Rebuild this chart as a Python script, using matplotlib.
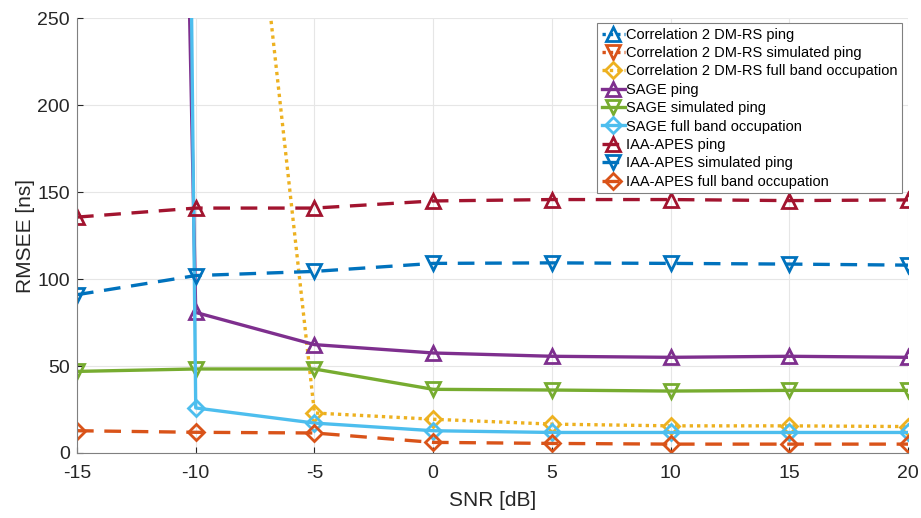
import numpy as np
import matplotlib.pyplot as plt

plt.rcParams["font.family"] = ["Liberation Sans", "DejaVu Sans"]
plt.rcParams["axes.unicode_minus"] = False

snr = [-15, -10, -5, 0, 5, 10, 15, 20]

# RMSEE in ns per method / signal scenario
corr_ping = [1450, 1100, 820, 610, 560, 545, 550, 548]
corr_sim = [1300, 980, 700, 480, 430, 420, 425, 422]
corr_full = [1200, 640, 23, 19.4, 16.6, 15.6, 15.6, 15.2]
sage_ping = [3400, 80.8, 62.3, 57.5, 55.6, 55.0, 55.6, 55.0]
sage_sim = [46.9, 48.3, 48.3, 36.6, 36.2, 35.6, 36.0, 36.0]
sage_full = [6500, 25.9, 17.2, 12.8, 11.8, 11.8, 11.8, 11.8]
iaa_ping = [135.6, 140.8, 140.8, 144.9, 145.7, 145.7, 145.1, 145.5]
iaa_sim = [91.0, 102.0, 104.4, 109.0, 109.3, 109.0, 108.6, 108.0]
iaa_full = [12.8, 11.9, 11.5, 6.1, 5.5, 5.1, 5.1, 5.1]

series = [
    ("Correlation 2 DM-RS ping", corr_ping, "#0072BD", ":", "^"),
    ("Correlation 2 DM-RS simulated ping", corr_sim, "#D95319", ":", "v"),
    ("Correlation 2 DM-RS full band occupation", corr_full, "#EDB120", ":", "D"),
    ("SAGE ping", sage_ping, "#7E2F8E", "-", "^"),
    ("SAGE simulated ping", sage_sim, "#77AC30", "-", "v"),
    ("SAGE full band occupation", sage_full, "#4DBEEE", "-", "D"),
    ("IAA-APES ping", iaa_ping, "#A2142F", "--", "^"),
    ("IAA-APES simulated ping", iaa_sim, "#0072BD", "--", "v"),
    ("IAA-APES full band occupation", iaa_full, "#D95319", "--", "D"),
]

fig = plt.figure(figsize=(9.21, 5.18), dpi=100)
ax = fig.add_axes([0.0836, 0.1255, 0.9024, 0.8395])

for label, y, color, ls, mk in series:
    ms = 8 if mk == "D" else 10
    line, = ax.plot(snr, y, color=color, linestyle=ls, marker=mk, markersize=ms,
                    markerfacecolor="none", markeredgewidth=2, linewidth=2.4,
                    label=label)
    if ls == "--":
        line.set_dashes((5, 3.2))
    elif ls == ":":
        line.set_dashes((1, 1.2))

ax.set_xlim(-15, 20)
ax.set_ylim(0, 250)
ax.set_xticks(np.arange(-15, 21, 5))
ax.set_yticks(np.arange(0, 251, 50))
ax.tick_params(direction="in", length=4, labelsize=14, colors="#262626")
ax.tick_params(axis="x", pad=9)
ax.tick_params(axis="y", pad=5)
ax.grid(True, color="#e6e6e6", linewidth=0.8)
ax.set_axisbelow(True)
for side in ["top", "right"]:
    ax.spines[side].set_visible(False)
for side in ["left", "bottom"]:
    ax.spines[side].set_color("#808080")

ax.set_xlabel("SNR [dB]", fontsize=15, color="#262626", labelpad=6)
ax.set_ylabel("RMSEE [ns]", fontsize=15, color="#262626", labelpad=2)

leg = ax.legend(loc="upper right", bbox_to_anchor=(0.993, 0.988), fontsize=10.5,
                handlelength=1.6, handletextpad=0.1, borderpad=0.3,
                labelspacing=0.3, fancybox=False, framealpha=1,
                edgecolor="#808080", borderaxespad=0)
leg.get_frame().set_linewidth(0.8)

fig.savefig("out.png", dpi=100)
